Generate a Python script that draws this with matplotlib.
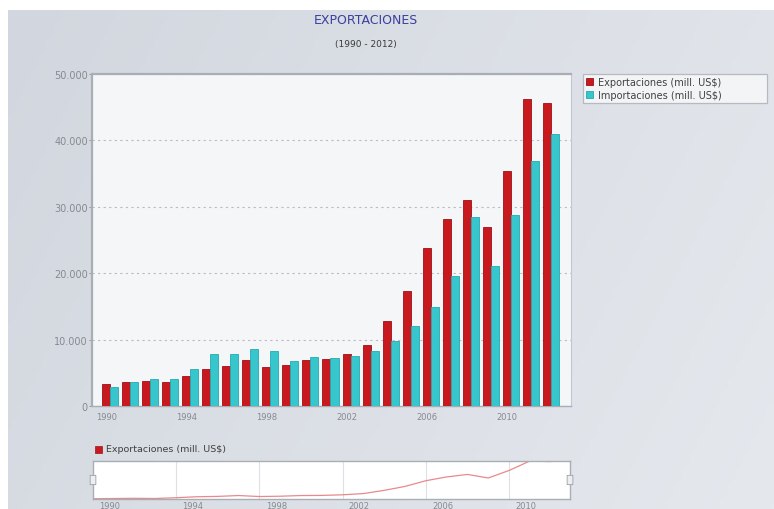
import numpy as np
import matplotlib.pyplot as plt
from matplotlib.patches import FancyBboxPatch, Rectangle

years = list(range(1990, 2013))
exportaciones = [3300, 3570, 3770, 3570, 4470, 5570, 5970, 6930, 5820, 6170, 6930, 7080,
                 7780, 9190, 12850, 17320, 23800, 28110, 30970, 26910, 35440, 46240, 45590]
importaciones = [2860, 3660, 4070, 4120, 5570, 7830, 7880, 8580, 8280, 6830, 7430, 7230,
                 7530, 8230, 9840, 12100, 14860, 19530, 28410, 21040, 28810, 36950, 40960]
yticks = [0, 10000, 20000, 30000, 40000, 50000]
ytick_labels = ['0', '10.000', '20.000', '30.000', '40.000', '50.000']
xtick_years = [1990, 1994, 1998, 2002, 2006, 2010]
exp_label = 'Exportaciones (mill. US$)'
imp_label = 'Importaciones (mill. US$)'

W, H = 774, 510
fig = plt.figure(figsize=(W / 100, H / 100), dpi=100)
fig.patch.set_facecolor('white')

# background panel with soft gradient
bg = fig.add_axes([8 / W, 0, 1 - 8 / W, 1 - 11 / H])
bg.set_axis_off()
gx = np.linspace(0, 1, 200)
gy = np.linspace(0, 1, 100)
GX, GY = np.meshgrid(gx, gy)
c1 = np.array([210, 215, 223]) / 255
c2 = np.array([229, 232, 237]) / 255
t = np.clip(0.75 * GX + 0.25 * (1 - GY), 0, 1)[..., None]
grad = c1 * (1 - t) + c2 * t
bg.imshow(grad, aspect='auto', extent=[0, 1, 0, 1], origin='lower')

# titles
fig.text(366 / W, 1 - 21 / H, 'EXPORTACIONES', color='#3b3f9e', fontsize=9,
         ha='center', va='center')
fig.text(366 / W, 1 - 44 / H, '(1990 - 2012)', color='#3a3a3a', fontsize=6.5,
         ha='center', va='center')

# main chart
ax = fig.add_axes([92 / W, 1 - 407 / H, (571 - 92) / W, (407 - 75) / H])
ax.set_facecolor('#f4f6f8')
x = np.array(years)
bw = 0.4
ax.bar(x - bw / 2, exportaciones, width=bw, color='#c8191f', edgecolor='#9e1016',
       linewidth=0.6, label=exp_label, zorder=3)
ax.bar(x + bw / 2, importaciones, width=bw, color='#36c6cb', edgecolor='#25aab0',
       linewidth=0.6, label=imp_label, zorder=3)
ax.set_xlim(1989.08, 2013.02)
ax.set_ylim(0, 50000)
ax.set_yticks(yticks)
ax.set_yticklabels(ytick_labels)
ax.set_xticks([yr - 0.2 for yr in xtick_years])
ax.set_xticklabels([str(yr) for yr in xtick_years])
ax.tick_params(axis='y', labelsize=7, colors='#868a90', length=2, width=0.6, pad=1)
ax.tick_params(axis='x', labelsize=6, colors='#868a90', length=0, pad=4)
ax.grid(axis='y', linestyle=(0, (2, 3)), color='#b8bcc2', linewidth=0.8, zorder=0)
for side in ['left', 'top']:
    ax.spines[side].set_color('#a9aeb6')
    ax.spines[side].set_linewidth(1.6)
ax.spines['right'].set_color('#c4c8ce')
ax.spines['right'].set_linewidth(0.8)
ax.spines['bottom'].set_color('#a9aeb6')
ax.spines['bottom'].set_linewidth(1.0)

# legend
leg = fig.legend(loc='upper left', bbox_to_anchor=(583 / W, 1 - 75 / H, (767 - 583) / W, 0),
                 mode='expand', fontsize=7, frameon=True, fancybox=False,
                 handlelength=0.7, handleheight=0.7, handletextpad=0.5, borderpad=0.3,
                 labelspacing=0.3, borderaxespad=0, labelcolor='#404040')
leg.get_frame().set_facecolor('#f8f9fa')
leg.get_frame().set_edgecolor('#a9aeb6')
leg.get_frame().set_linewidth(0.9)

# navigator
nav = fig.add_axes([93 / W, 1 - 500 / H, (570 - 93) / W, (500 - 462) / H])
nav.set_facecolor('white')
nav.plot(years, exportaciones, color='#e88a8c', linewidth=0.9)
nav.set_xlim(1990, 2012.93)
nav.set_ylim(min(exportaciones) - 300, max(exportaciones))
nav.set_yticks([])
nav.set_xticks(xtick_years)
nav.set_xticklabels([])
nav.tick_params(axis='x', length=0)
nav.grid(axis='x', color='#dde0e4', linewidth=0.8)
for sp in nav.spines.values():
    sp.set_color('#a9aeb6')
    sp.set_linewidth(1.0)
for xx in [0, 1]:
    nav.add_patch(FancyBboxPatch((xx - 0.004, 0.38), 0.008, 0.24,
                                 boxstyle='round,pad=0.002', transform=nav.transAxes,
                                 facecolor='#eceef1', edgecolor='#9ba0a8', linewidth=0.6,
                                 clip_on=False, zorder=5))
for yr in xtick_years:
    nav.text(yr + 0.3, -0.18, str(yr), transform=nav.get_xaxis_transform(),
             fontsize=6, color='#868a90', ha='left', va='center', clip_on=False)

# navigator legend
fig.patches.append(Rectangle((95 / W, 1 - 454 / H), 7 / W, 7 / H, transform=fig.transFigure,
                             facecolor='#c8191f', edgecolor='#9e1016', linewidth=0.5))
fig.text(106 / W, 1 - 450 / H, exp_label, fontsize=6.8, color='#404040', ha='left', va='center')

fig.savefig('out.png', dpi=100)
